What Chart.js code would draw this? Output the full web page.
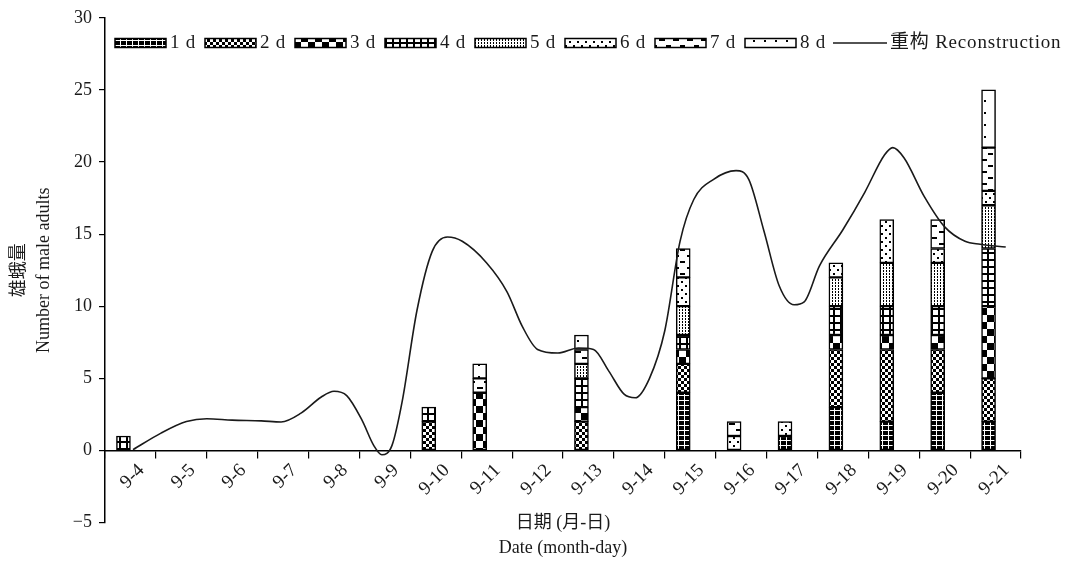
<!DOCTYPE html>
<html><head><meta charset="utf-8">
<script src="https://cdn.jsdelivr.net/npm/chart.js@4/dist/chart.umd.min.js"></script>
<style>html,body{margin:0;padding:0;background:#fff;}#wrap{width:1073px;height:564px;}</style>
</head><body><div id="wrap"><canvas id="c" width="1073" height="564"></canvas></div>
<script>
const categories = ['9-4','9-5','9-6','9-7','9-8','9-9','9-10','9-11','9-12','9-13','9-14','9-15','9-16','9-17','9-18','9-19','9-20','9-21'];
//            9-4  9-5  9-6  9-7  9-8  9-9  9-10 9-11 9-12 9-13 9-14 9-15 9-16 9-17 9-18 9-19 9-20 9-21
const d1 = [null,null,null,null,null,null,null,null,null,null,null,4,   null,1,   3,   2,   4,   2];
const d2 = [null,null,null,null,null,null,2,   null,null,2,   null,2,   null,null,4,   5,   3,   3];
const d3 = [null,null,null,null,null,null,null,4,   null,1,   null,1,   null,null,1,   1,   1,   5];
const d4 = [1,   null,null,null,null,null,1,   null,null,2,   null,1,   null,null,2,   2,   2,   4];
const d5 = [null,null,null,null,null,null,null,null,null,1,   null,2,   null,null,2,   3,   3,   3];
const d6 = [null,null,null,null,null,null,null,null,null,null,null,2,   1,   1,   1,   3,   1,   1];
const d7 = [null,null,null,null,null,null,null,1,   null,1,   null,2,   1,   null,null,null,2,   3];
const d8 = [null,null,null,null,null,null,null,1,   null,1,   null,null,null,null,null,null,null,4];
const seriesNames = ['1 d','2 d','3 d','4 d','5 d','6 d','7 d','8 d'];
const lineName = '重构 Reconstruction';
// reconstruction curve: position along the date axis (0 = 9-4) and value
const lineX = [0.05,0.6,1.1,1.5,2.0,2.57,2.96,3.36,3.75,4.0,4.25,4.55,4.78,4.94,5.14,5.34,5.63,5.93,6.23,6.52,7.0,7.4,7.7,8.0,8.4,8.8,9.1,9.4,9.7,9.92,10.2,10.5,10.8,11.07,11.46,11.9,12.15,12.45,12.75,13.04,13.24,13.54,14.0,14.43,14.82,14.98,15.2,15.6,16.0,16.4,16.7,17.2];
const lineY = [0.05,1.2,2.0,2.2,2.1,2.05,1.97,2.6,3.7,4.1,3.8,2.1,0.35,-0.3,0.35,3.4,9.7,13.8,14.8,14.5,13.0,11.0,8.6,7.0,6.75,7.1,7.0,5.5,3.9,3.65,5.0,8.3,14.5,17.4,18.8,19.4,18.8,15.2,11.4,10.1,10.3,12.8,15.3,17.9,20.5,21.0,20.3,17.6,15.5,14.5,14.3,14.1];
const yTicks = [-5,0,5,10,15,20,25,30];
const yTitle = ['雄蛾量','Number of male adults'];
const xTitle = ['日期 (月-日)','Date (month-day)'];

const FONT = '"Liberation Serif", "Noto Sans CJK SC", serif';
Chart.defaults.font.family = FONT;
Chart.defaults.color = '#1a1a1a';

const canvas = document.getElementById('c');
const mainCtx = canvas.getContext('2d');
function makePattern(w, h, draw) {
  const c = document.createElement('canvas'); c.width = w; c.height = h;
  const g = c.getContext('2d');
  g.fillStyle = '#fff'; g.fillRect(0, 0, w, h); g.fillStyle = '#000';
  draw(g);
  return mainCtx.createPattern(c, 'repeat');
}
const patterns = [
  makePattern(6, 5, g => { g.fillRect(0,0,6,5); g.fillStyle = '#fff'; g.fillRect(0,0,6,1); g.fillRect(0,0,1,5); }),
  makePattern(6, 6, g => { g.fillRect(0,0,3,3); g.fillRect(3,3,3,3); }),
  makePattern(14, 14, g => { g.fillRect(0,0,7,7); g.fillRect(7,7,7,7); }),
  makePattern(7, 7, g => { g.fillRect(0,0,7,2); g.fillRect(0,0,2,7); }),
  makePattern(3, 3, g => { g.fillRect(1,1,1,1); g.fillRect(1,0,1,1); }),
  makePattern(8, 8, g => { g.fillRect(1,1,2,2); g.fillRect(5,5,2,2); }),
  makePattern(14, 12, g => { g.fillRect(1,3,6,2); g.fillRect(8,9,5,2); }),
  makePattern(11, 12, g => { g.fillRect(5,4,2,2); })
];

const seriesValues = [d1,d2,d3,d4,d5,d6,d7,d8];
const datasets = seriesValues.map((vals, i) => ({
  type: 'bar', label: seriesNames[i], data: vals,
  backgroundColor: patterns[i], borderColor: '#000', borderWidth: 1.5, borderSkipped: false,
  barThickness: 14, order: 1, xAxisID: 'x', yAxisID: 'y'
}));
datasets.push({
  type: 'line', label: lineName,
  data: lineX.map((x, i) => ({x, y: lineY[i]})),
  borderColor: '#1a1a1a', borderWidth: 1.6, pointRadius: 0, fill: false,
  cubicInterpolationMode: 'monotone', order: 0, xAxisID: 'x2', yAxisID: 'y'
});

const legendPlugin = {
  id: 'refLegend',
  afterDraw(chart) {
    const ctx = chart.ctx; ctx.save();
    ctx.font = '19px ' + FONT; ctx.textBaseline = 'middle'; ctx.textAlign = 'left';
    try { ctx.letterSpacing = '0.8px'; } catch (e) {}
    const y = 43; let x = 115;
    chart.data.datasets.forEach((ds, i) => {
      if (ds.type === 'bar') {
        ctx.fillStyle = ds.backgroundColor; ctx.fillRect(x, y - 4.5, 51, 9);
        ctx.strokeStyle = '#000'; ctx.lineWidth = 1.5; ctx.strokeRect(x, y - 4.5, 51, 9);
        ctx.fillStyle = '#1a1a1a'; ctx.fillText(ds.label, x + 55, y);
        x += 90;
      } else {
        ctx.strokeStyle = '#1a1a1a'; ctx.lineWidth = 1.6;
        ctx.beginPath(); ctx.moveTo(x - 2, y); ctx.lineTo(x + 52, y); ctx.stroke();
        ctx.fillStyle = '#1a1a1a'; ctx.fillText(ds.label, x + 55, y);
      }
    });
    ctx.restore();
  }
};

new Chart(canvas, {
  type: 'bar',
  data: { labels: categories, datasets },
  plugins: [legendPlugin],
  options: {
    responsive: false, animation: false, devicePixelRatio: 1,
    layout: { padding: { top: 15, right: 52, bottom: 41.5, left: 0 } },
    plugins: { legend: { display: false }, tooltip: { enabled: false } },
    scales: {
      x: {
        type: 'category', stacked: true, position: { y: 0 },
        afterFit: s => { s.height = 0; },
        grid: { drawOnChartArea: false, drawTicks: true, tickLength: 7, color: '#000', lineWidth: 1.2 },
        border: { color: '#000', width: 1.5 },
        ticks: { minRotation: 45, maxRotation: 45, autoSkip: false, padding: 2, labelOffset: 11, font: { size: 19 } },
        title: { display: true, text: xTitle, font: { size: 18, lineHeight: 1.39 }, padding: { top: 0, bottom: -110.5 } }
      },
      x2: { type: 'linear', display: false, offset: false, min: -0.5, max: 17.5, grid: { offset: false } },
      y: {
        stacked: true, min: -5, max: 30, position: 'left',
        afterFit: s => { s.width = 105; },
        afterBuildTicks: s => { s.ticks = yTicks.map(v => ({ value: v })); },
        grid: { drawOnChartArea: false, drawTicks: true, tickLength: 6, color: '#000', lineWidth: 1.2 },
        border: { color: '#000', width: 1.5 },
        ticks: { padding: 7, font: { size: 18 }, callback: v => (v < 0 ? '\u2212' + Math.abs(v) : String(v)) },
        title: { display: true, text: yTitle, font: { size: 18, lineHeight: 1.39 }, padding: { top: 6.5, bottom: 0 } }
      }
    }
  }
});
</script></body></html>
